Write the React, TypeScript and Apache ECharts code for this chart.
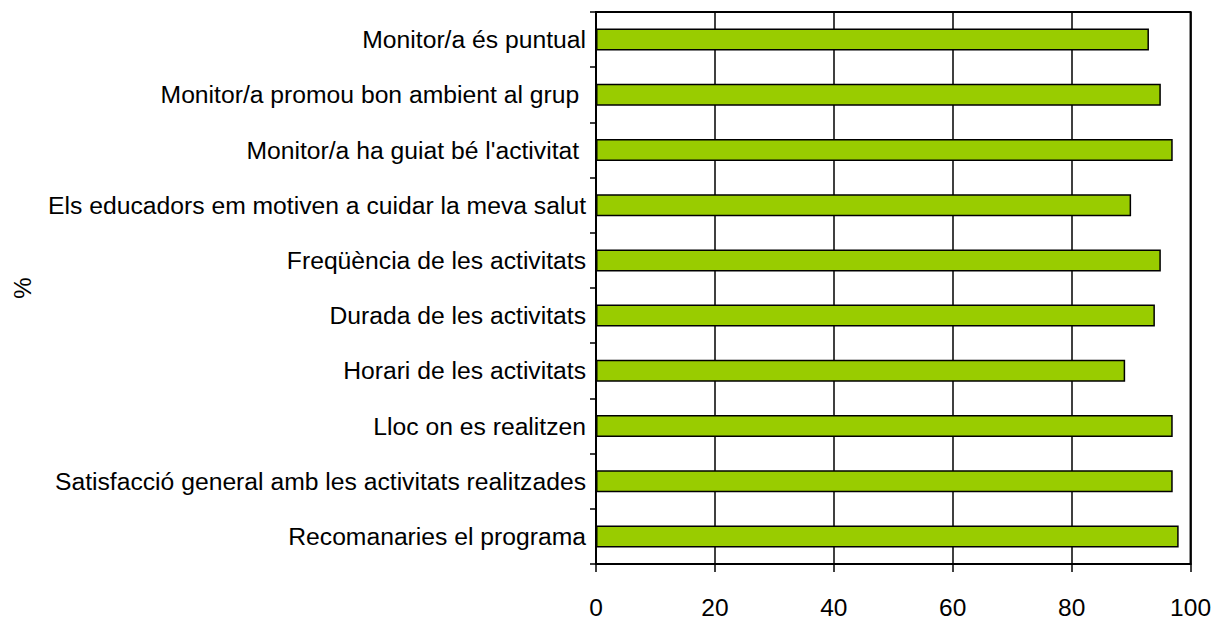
import React, { useEffect, useRef } from "react";
import * as echarts from "echarts";

const categories = [
  "Monitor/a és puntual",
  "Monitor/a promou bon ambient al grup ",
  "Monitor/a ha guiat bé l'activitat ",
  "Els educadors em motiven a cuidar la meva salut",
  "Freqüència de les activitats",
  "Durada de les activitats",
  "Horari de les activitats",
  "Lloc on es realitzen",
  "Satisfacció general amb les activitats realitzades",
  "Recomanaries el programa",
];
const values = [93, 95, 97, 90, 95, 94, 89, 97, 97, 98];
const yAxisName = "%";

export default function App() {
  const ref = useRef<HTMLDivElement>(null);
  useEffect(() => {
    const chart = echarts.init(ref.current!, null, { renderer: "svg" });
    const font = "'Liberation Sans', Arial, sans-serif";
    chart.setOption({
      animation: false,
      backgroundColor: "#fff",
      grid: {
        left: 596,
        right: 22,
        top: 12,
        bottom: 49,
        show: true,
        borderColor: "#000",
        borderWidth: 2,
        backgroundColor: "transparent",
      },
      xAxis: {
        type: "value",
        min: 0,
        max: 100,
        interval: 20,
        axisLine: { show: true, lineStyle: { color: "#000", width: 2 } },
        axisTick: { show: true, length: 8, lineStyle: { color: "#000", width: 1.5 } },
        axisLabel: { color: "#000", fontSize: 24.5, fontFamily: font, margin: 31 },
        splitLine: { show: true, lineStyle: { color: "#000", width: 1.5 } },
      },
      yAxis: {
        type: "category",
        data: categories,
        inverse: true,
        name: yAxisName,
        nameLocation: "middle",
        nameRotate: 90,
        nameGap: 562,
        nameTextStyle: { color: "#000", fontSize: 24, fontFamily: font },
        axisLine: { show: true, lineStyle: { color: "#000", width: 2 } },
        axisTick: { show: true, length: 6, lineStyle: { color: "#000", width: 1.5 } },
        axisLabel: { color: "#000", fontSize: 24.7, fontFamily: font, margin: 10 },
        splitLine: { show: false },
      },
      series: [
        {
          type: "bar",
          data: values,
          barWidth: 22,
          itemStyle: { color: "#99CC00", borderColor: "#000", borderWidth: 1.5 },
        },
      ],
    });
    return () => chart.dispose();
  }, []);
  return (
    <div
      ref={ref}
      style={{ position: "fixed", left: 0, top: 0, width: 1214, height: 620 }}
    />
  );
}
